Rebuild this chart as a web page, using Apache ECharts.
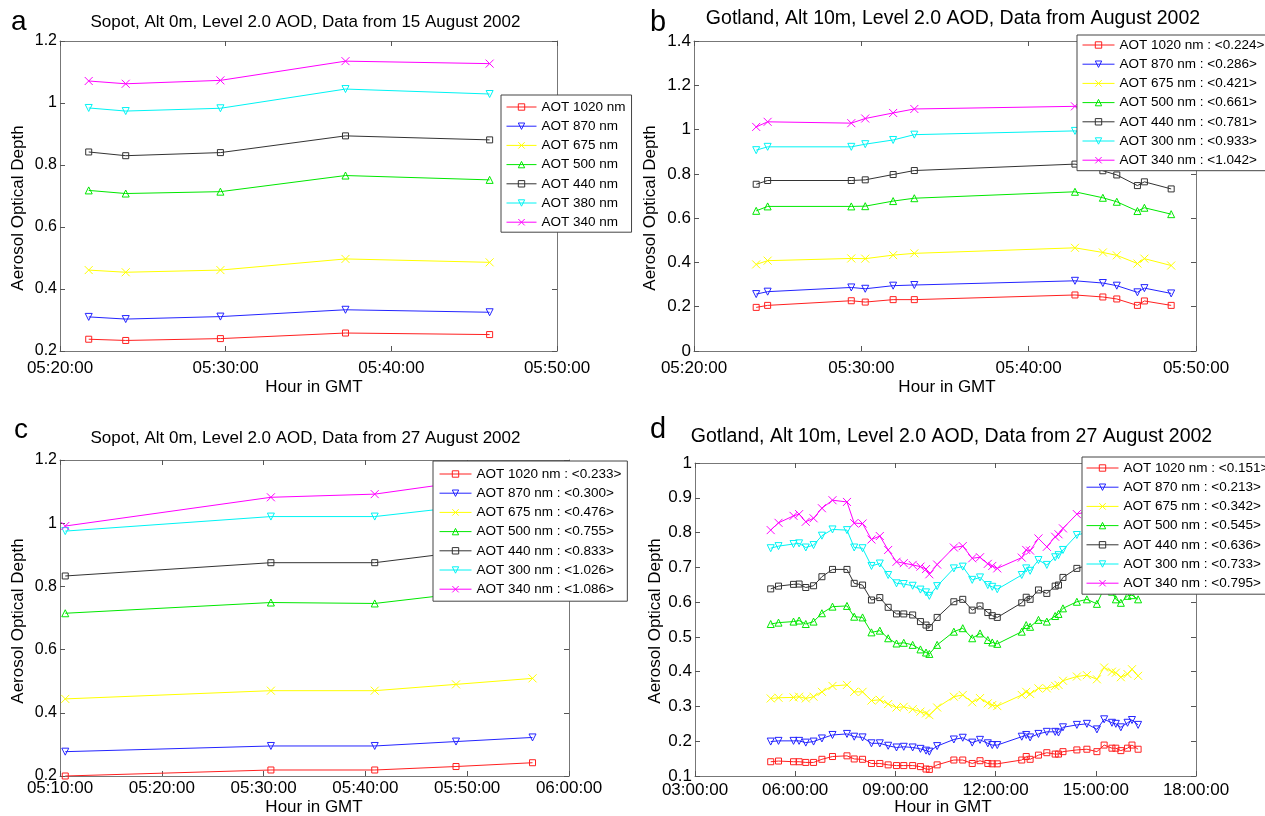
<!DOCTYPE html>
<html><head><meta charset="utf-8">
<script src="https://cdn.jsdelivr.net/npm/echarts@6/dist/echarts.min.js"></script>
<style>html,body{margin:0;padding:0;background:#fff}#c{width:1265px;height:816px}</style>
</head><body><div id="c"></div>
<script>
// ---------------- DATA ----------------
// Panel a: Sopot, 15 August 2002
const namesA = ['AOT 1020 nm','AOT 870 nm','AOT 675 nm','AOT 500 nm','AOT 440 nm','AOT 380 nm','AOT 340 nm'];
const timesA = ['05:21:44','05:23:58','05:29:41','05:37:14','05:45:56'];
const a1020 = [0.238,0.234,0.240,0.258,0.253];
const a870  = [0.310,0.303,0.311,0.333,0.325];
const a675  = [0.461,0.454,0.461,0.497,0.486];
const a500  = [0.718,0.708,0.714,0.766,0.752];
const a440  = [0.842,0.830,0.840,0.894,0.881];
const a380  = [0.984,0.974,0.983,1.045,1.029];
const a340  = [1.071,1.062,1.073,1.135,1.127];

// Panel b: Gotland, August 2002
const namesB = ['AOT 1020 nm : <0.224>','AOT 870 nm : <0.286>','AOT 675 nm : <0.421>','AOT 500 nm : <0.661>','AOT 440 nm : <0.781>','AOT 300 nm : <0.933>','AOT 340 nm : <1.042>'];
const timesB = ['05:23:43','05:24:24','05:29:24','05:30:14','05:31:54','05:33:10','05:42:46','05:44:26','05:45:16','05:46:30','05:46:55','05:48:31'];
const b1020 = [0.197,0.206,0.227,0.221,0.232,0.232,0.253,0.244,0.235,0.206,0.226,0.206];
const b870  = [0.257,0.268,0.287,0.281,0.295,0.298,0.317,0.307,0.295,0.265,0.284,0.260];
const b675  = [0.391,0.408,0.418,0.417,0.433,0.441,0.466,0.445,0.432,0.395,0.417,0.386];
const b500  = [0.633,0.653,0.653,0.654,0.677,0.690,0.719,0.692,0.674,0.632,0.647,0.618];
const b440  = [0.753,0.770,0.770,0.773,0.797,0.815,0.844,0.814,0.795,0.747,0.764,0.732];
const b300  = [0.907,0.922,0.922,0.934,0.953,0.977,0.994,0.970,0.955,0.915,0.930,0.895];
const b340  = [1.012,1.035,1.029,1.050,1.075,1.093,1.105,1.080,1.065,1.025,1.040,1.000];

// Panel c: Sopot, 27 August 2002
const namesC = ['AOT 1020 nm : <0.233>','AOT 870 nm : <0.300>','AOT 675 nm : <0.476>','AOT 500 nm : <0.755>','AOT 440 nm : <0.833>','AOT 300 nm : <1.026>','AOT 340 nm : <1.086>'];
const timesC = ['05:10:31','05:30:43','05:40:55','05:48:54','05:56:25'];
const c1020 = [0.200,0.219,0.219,0.230,0.242];
const c870  = [0.277,0.295,0.295,0.309,0.322];
const c675  = [0.444,0.470,0.470,0.490,0.509];
const c500  = [0.715,0.749,0.746,0.776,0.790];
const c440  = [0.833,0.875,0.875,0.907,0.920];
const c300  = [0.975,1.021,1.021,1.050,1.068];
const c340  = [0.991,1.082,1.092,1.128,1.150];

// Panel d: Gotland, 27 August 2002
const namesD = ['AOT 1020 nm : <0.151>','AOT 870 nm : <0.213>','AOT 675 nm : <0.342>','AOT 500 nm : <0.545>','AOT 440 nm : <0.636>','AOT 300 nm : <0.733>','AOT 340 nm : <0.795>'];
const timesD = ['05:16','05:30','05:57','06:07','06:19','06:33','06:48','07:07','07:33','07:46','08:01','08:17','08:32','08:47','09:02','09:15','09:31','09:45','09:55','10:01','10:15','10:45','11:01','11:18','11:32','11:46','11:54','12:03','12:47','12:55','13:02','13:17','13:32','13:47','13:53','14:01','14:26','14:44','15:02','15:15','15:29','15:36','15:45','15:57','16:05','16:16'];
const d1020 = [0.141,0.143,0.141,0.141,0.139,0.139,0.148,0.156,0.158,0.149,0.148,0.136,0.136,0.132,0.130,0.130,0.130,0.127,0.120,0.119,0.132,0.146,0.146,0.136,0.144,0.136,0.135,0.135,0.146,0.156,0.148,0.160,0.167,0.163,0.163,0.170,0.175,0.177,0.170,0.189,0.180,0.180,0.173,0.180,0.189,0.177];
const d870  = [0.199,0.201,0.201,0.201,0.196,0.199,0.208,0.218,0.221,0.213,0.211,0.194,0.194,0.187,0.182,0.184,0.182,0.178,0.173,0.170,0.186,0.205,0.210,0.196,0.204,0.194,0.189,0.189,0.213,0.218,0.211,0.221,0.227,0.227,0.225,0.240,0.247,0.250,0.234,0.263,0.253,0.250,0.240,0.253,0.261,0.247];
const d675  = [0.323,0.325,0.326,0.328,0.323,0.328,0.342,0.359,0.362,0.342,0.342,0.317,0.319,0.307,0.297,0.299,0.292,0.285,0.280,0.275,0.297,0.328,0.333,0.312,0.324,0.309,0.304,0.301,0.333,0.342,0.336,0.352,0.352,0.359,0.362,0.374,0.386,0.390,0.378,0.412,0.400,0.397,0.384,0.393,0.407,0.388];
const d500  = [0.537,0.541,0.544,0.547,0.537,0.544,0.568,0.587,0.589,0.558,0.556,0.513,0.518,0.496,0.481,0.483,0.477,0.464,0.455,0.451,0.477,0.515,0.525,0.496,0.510,0.491,0.484,0.480,0.515,0.534,0.529,0.549,0.544,0.560,0.566,0.582,0.601,0.608,0.595,0.640,0.630,0.608,0.598,0.618,0.620,0.608];
const d440  = [0.638,0.646,0.651,0.652,0.642,0.647,0.673,0.694,0.694,0.654,0.649,0.606,0.613,0.585,0.566,0.566,0.563,0.544,0.534,0.527,0.556,0.601,0.608,0.577,0.589,0.570,0.561,0.556,0.598,0.614,0.608,0.635,0.625,0.646,0.649,0.671,0.697,0.705,0.712,0.725,0.715,0.705,0.715,0.725,0.718,0.705];
const d300  = [0.755,0.761,0.767,0.769,0.757,0.764,0.791,0.809,0.807,0.757,0.755,0.704,0.711,0.678,0.654,0.652,0.647,0.636,0.628,0.618,0.646,0.697,0.702,0.664,0.671,0.649,0.644,0.637,0.678,0.697,0.690,0.721,0.707,0.729,0.735,0.750,0.793,0.800,0.810,0.825,0.815,0.805,0.815,0.825,0.818,0.805];
const d340  = [0.807,0.828,0.848,0.853,0.831,0.841,0.870,0.893,0.888,0.827,0.826,0.780,0.790,0.750,0.716,0.712,0.707,0.702,0.695,0.680,0.708,0.757,0.761,0.726,0.729,0.710,0.704,0.697,0.728,0.750,0.748,0.783,0.759,0.788,0.795,0.812,0.853,0.860,0.870,0.885,0.875,0.865,0.875,0.885,0.878,0.862];

// Tick labels
const xTicksAB = ['05:20:00','05:30:00','05:40:00','05:50:00'];
const xTicksC  = ['05:10:00','05:20:00','05:30:00','05:40:00','05:50:00','06:00:00'];
const xTicksD  = ['03:00:00','06:00:00','09:00:00','12:00:00','15:00:00','18:00:00'];
const yTicksAC = ['0.2','0.4','0.6','0.8','1','1.2'];
const yTicksB  = ['0','0.2','0.4','0.6','0.8','1','1.2','1.4'];
const yTicksD  = ['0.1','0.2','0.3','0.4','0.5','0.6','0.7','0.8','0.9','1'];

// ---------------- BUILD ----------------
const FONT = '"Liberation Sans", Arial, Helvetica, sans-serif';
const FRAME = '#777';
const XSYM = 'path://M0,0L10,10M10,0L0,10';
const STY = [
  {color:'#ff2020', symbol:'rect', rot:0, size:6},
  {color:'#2424ff', symbol:'triangle', rot:180, size:7},
  {color:'#ffff00', symbol:XSYM, rot:0, size:8},
  {color:'#00e800', symbol:'triangle', rot:0, size:7},
  {color:'#333333', symbol:'rect', rot:0, size:6},
  {color:'#00f4f4', symbol:'triangle', rot:180, size:7},
  {color:'#ff00ff', symbol:XSYM, rot:0, size:8}
];
function toMin(t){const p=t.split(':').map(Number);return (p[0]-5)*60+p[1]+(p[2]||0)/60;}
function toHour(t){const p=t.split(':').map(Number);return p[0]+p[1]/60+(p[2]||0)/3600;}

const grids = [
  {left:60, top:41, width:497, height:310},
  {left:694, top:41, width:502, height:310},
  {left:60, top:460, width:509, height:316},
  {left:695, top:463, width:501, height:313}
];
const xAxis = [], yAxis = [], series = [];
function addAxes(p, xmin, xmax, xint, xlabels, xfs, xmargin, ymin, ymax, yint, ylabels, yfs){
  const line = {show:true, onZero:false, lineStyle:{color:FRAME, width:1}};
  const tick = {show:true, inside:true, length:5, lineStyle:{color:'#555', width:1}};
  xAxis.push({gridIndex:p, type:'value', position:'bottom', min:xmin, max:xmax, interval:xint,
    axisLine:line, axisTick:tick, splitLine:{show:false},
    axisLabel:{margin:xmargin, fontSize:xfs, fontFamily:FONT, color:'#000', showMinLabel:true, showMaxLabel:true,
      formatter:v=>xlabels[Math.round((v-xmin)/xint)]}});
  xAxis.push({gridIndex:p, type:'value', position:'top', min:xmin, max:xmax, interval:xint,
    axisLine:line, axisTick:tick, splitLine:{show:false}, axisLabel:{show:false}});
  yAxis.push({gridIndex:p, type:'value', position:'left', min:ymin, max:ymax, interval:yint,
    axisLine:line, axisTick:tick, splitLine:{show:false},
    axisLabel:{margin:3, fontSize:yfs, fontFamily:FONT, color:'#000', showMinLabel:true, showMaxLabel:true,
      formatter:v=>ylabels[Math.round((v-ymin)/yint)]}});
  yAxis.push({gridIndex:p, type:'value', position:'right', min:ymin, max:ymax, interval:yint,
    axisLine:line, axisTick:tick, splitLine:{show:false}, axisLabel:{show:false}});
}
function addSeries(p, names, xs, arrs){
  arrs.forEach((vals,i)=>{
    const s = STY[i];
    series.push({
      type:'line', name:names[i], xAxisIndex:2*p, yAxisIndex:2*p,
      data: vals.map((v,j)=>[xs[j], v]),
      symbol:s.symbol, symbolSize:s.size, symbolRotate:s.rot, showSymbol:true,
      lineStyle:{color:s.color, width:1},
      itemStyle:{color:'rgba(255,255,255,0)', borderColor:s.color, borderWidth:1},
      emphasis:{disabled:true}, animation:false, z:2
    });
  });
}
addAxes(0, 20, 50, 10, xTicksAB, 17, 9, 0.2, 1.2, 0.2, yTicksAC, 16);
addAxes(1, 20, 50, 10, xTicksAB, 17, 9, 0, 1.4, 0.2, yTicksB, 17);
addAxes(2, 10, 60, 10, xTicksC, 17, 4, 0.2, 1.2, 0.2, yTicksAC, 16);
addAxes(3, 3, 18, 3, xTicksD, 17, 6, 0.1, 1.0, 0.1, yTicksD, 17);

addSeries(0, namesA, timesA.map(toMin), [a1020,a870,a675,a500,a440,a380,a340]);
addSeries(1, namesB, timesB.map(toMin), [b1020,b870,b675,b500,b440,b300,b340]);
addSeries(2, namesC, timesC.map(toMin), [c1020,c870,c675,c500,c440,c300,c340]);
addSeries(3, namesD, timesD.map(toHour), [d1020,d870,d675,d500,d440,d300,d340]);

function legend(names, left, top, pad, iw){
  return {data:names, orient:'vertical', left:left, top:top, padding:pad,
    itemWidth:iw, itemHeight:8, itemGap:5.2, selectedMode:false,
    backgroundColor:'#fff', borderColor:'#444', borderWidth:1,
    lineStyle:{width:1}, itemStyle:{borderWidth:1},
    textStyle:{fontSize:13.5, fontFamily:FONT, color:'#000'}};
}
const legends = [
  legend(namesA, 501, 95, [5,6,3,5], 30),
  legend(namesB, 1077, 35, [3,6,3.5,5], 32),
  legend(namesC, 433, 461, [6,6,5,6], 32),
  legend(namesD, 1082, 457, [4,6,4,4], 32)
];

function txt(text, x, y, size, align, rot){
  return {type:'text', x:x, y:y, rotation:rot||0, z:100,
    style:{text:text, fontSize:size, fontFamily:FONT, fill:'#000', align:align||'center', verticalAlign:'middle'}};
}
const R = Math.PI/2;
const graphics = [
  txt('a', 11, 22, 28, 'left'), txt('b', 650, 23, 29, 'left'), txt('c', 14, 430, 28, 'left'), txt('d', 650, 430, 29, 'left'),
  txt('Sopot, Alt 0m, Level 2.0 AOD, Data from 15 August 2002', 305.5, 22.3, 17),
  txt('Gotland, Alt 10m, Level 2.0 AOD, Data from August 2002', 953, 18.2, 19.5),
  txt('Sopot, Alt 0m, Level 2.0 AOD, Data from 27 August 2002', 305.5, 438, 17),
  txt('Gotland, Alt 10m, Level 2.0 AOD, Data from 27 August 2002', 951.5, 436.5, 19.5),
  txt('Aerosol Optical Depth', 18.5, 208, 17, 'center', R),
  txt('Aerosol Optical Depth', 650.5, 208, 17, 'center', R),
  txt('Aerosol Optical Depth', 18.5, 621, 17, 'center', R),
  txt('Aerosol Optical Depth', 655, 621, 17, 'center', R),
  txt('Hour in GMT', 314, 387.3, 17), txt('Hour in GMT', 947, 387.3, 17),
  txt('Hour in GMT', 314, 807, 17), txt('Hour in GMT', 943, 807, 17)
];

const chart = echarts.init(document.getElementById('c'), null, {renderer:'canvas'});
chart.setOption({
  animation:false, backgroundColor:'#fff',
  grid: grids, xAxis: xAxis, yAxis: yAxis, series: series,
  legend: legends, graphic: {elements: graphics}
});
</script></body></html>
